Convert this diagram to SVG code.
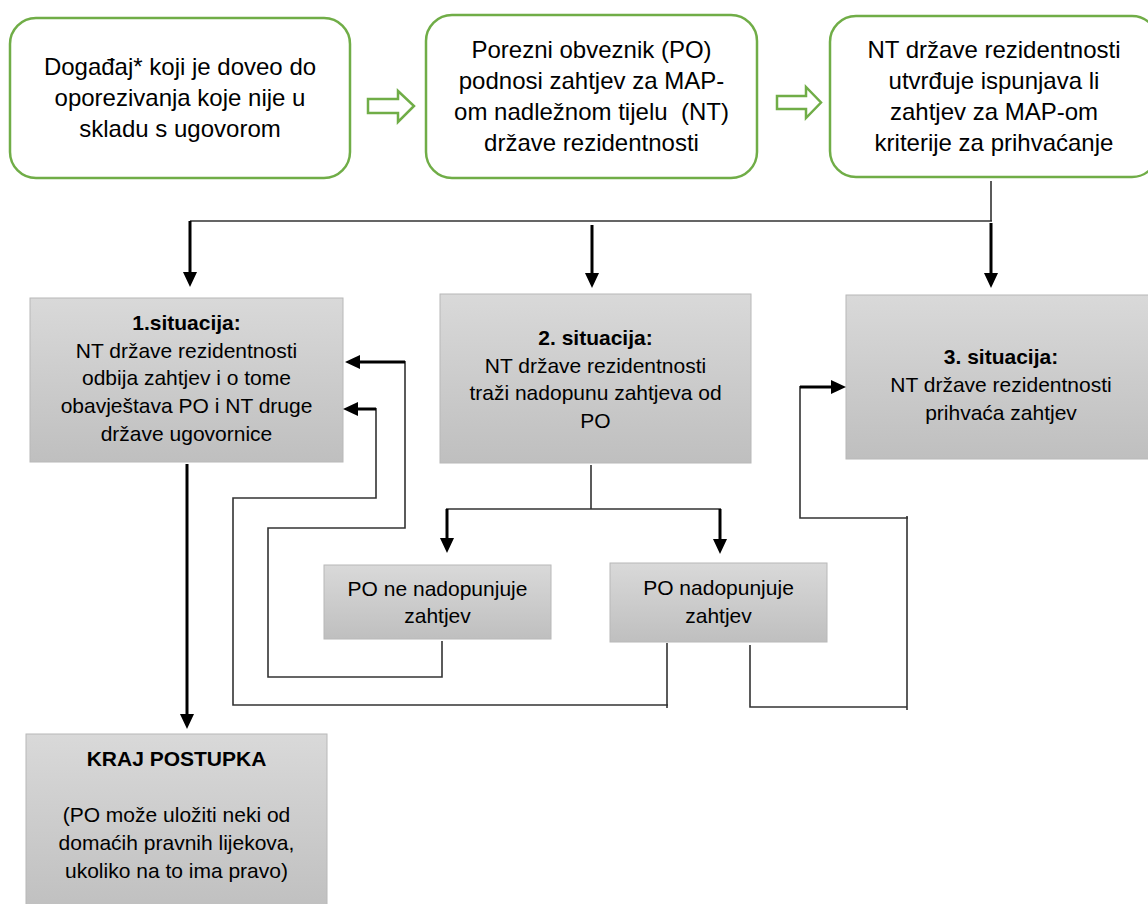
<svg xmlns="http://www.w3.org/2000/svg" width="1148" height="904" viewBox="0 0 1148 904">
  <defs>
    <linearGradient id="greyFill" x1="0" y1="0" x2="0" y2="1">
      <stop offset="0" stop-color="#d9d9d9"/>
      <stop offset="1" stop-color="#bfbfbf"/>
    </linearGradient>
    <marker id="head" viewBox="0 0 15 14" refX="0" refY="7" markerWidth="15" markerHeight="14" markerUnits="userSpaceOnUse" orient="auto">
      <path d="M0,0 L15,7 L0,14 Z" fill="#000"/>
    </marker>
    <style>
      .step { fill: #fff; stroke: #70ad47; stroke-width: 2.5; }
      .grey { fill: url(#greyFill); stroke: #b8b8b8; stroke-width: 1; }
      .hollow { fill: #fff; stroke: #70ad47; stroke-width: 2.5; stroke-linejoin: miter; }
      text { font-family: "Liberation Sans", Arial, sans-serif; fill: #000; text-anchor: middle; }
      .big { font-size: 24px; }
      .small { font-size: 21px; }
      .b { font-weight: bold; }
      .thin { fill: none; stroke: #333; stroke-width: 1.6; }
      .thick { fill: none; stroke: #000; stroke-width: 3; marker-end: url(#head); }
    </style>
  </defs>
  <rect width="1148" height="904" fill="#fff"/>

  <!-- top row: rounded green steps -->
  <g id="event">
    <rect class="step" x="10" y="18" width="340" height="160" rx="26"/>
    <text class="big" x="180" y="75">Događaj* koji je doveo do</text>
    <text class="big" x="180" y="106">oporezivanja koje nije u</text>
    <text class="big" x="180" y="137">skladu s ugovorom</text>
  </g>
  <g id="request">
    <rect class="step" x="426" y="15" width="331" height="163" rx="26"/>
    <text class="big" x="591.5" y="58">Porezni obveznik (PO)</text>
    <text class="big" x="591.5" y="89">podnosi zahtjev za MAP-</text>
    <text class="big" x="591.5" y="120">om nadležnom tijelu&#160; (NT)</text>
    <text class="big" x="591.5" y="151">države rezidentnosti</text>
  </g>
  <g id="check">
    <rect class="step" x="830" y="16" width="328" height="161" rx="26"/>
    <text class="big" x="994" y="58">NT države rezidentnosti</text>
    <text class="big" x="994" y="89">utvrđuje ispunjava li</text>
    <text class="big" x="994" y="120">zahtjev za MAP-om</text>
    <text class="big" x="994" y="151">kriterije za prihvaćanje</text>
  </g>

  <!-- hollow block arrows between the steps -->
  <g id="flow-arrows">
    <path class="hollow" d="M368,99 H398 V91 L414,106 L398,122 V113 H368 Z"/>
    <path class="hollow" d="M777,96 H806 V87 L821,102.5 L806,118 V109 H777 Z"/>
  </g>

  <!-- situations -->
  <g id="situation1">
    <rect class="grey" x="30" y="298" width="313" height="164"/>
    <text class="small b" x="186.5" y="330">1.situacija:</text>
    <text class="small" x="186.5" y="357.5">NT države rezidentnosti</text>
    <text class="small" x="186.5" y="385">odbija zahtjev i o tome</text>
    <text class="small" x="186.5" y="413">obavještava PO i NT druge</text>
    <text class="small" x="186.5" y="441">države ugovornice</text>
  </g>
  <g id="situation2">
    <rect class="grey" x="440" y="294" width="311" height="169"/>
    <text class="small b" x="595.5" y="345">2. situacija:</text>
    <text class="small" x="595.5" y="372.5">NT države rezidentnosti</text>
    <text class="small" x="595.5" y="400">traži nadopunu zahtjeva od</text>
    <text class="small" x="595.5" y="427.5">PO</text>
  </g>
  <g id="situation3">
    <rect class="grey" x="846" y="295" width="312" height="164"/>
    <text class="small b" x="1001" y="364">3. situacija:</text>
    <text class="small" x="1001" y="392">NT države rezidentnosti</text>
    <text class="small" x="1001" y="420">prihvaća zahtjev</text>
  </g>
  <g id="no-supplement">
    <rect class="grey" x="324" y="565" width="227" height="74"/>
    <text class="small" x="437.5" y="596">PO ne nadopunjuje</text>
    <text class="small" x="437.5" y="623">zahtjev</text>
  </g>
  <g id="supplement">
    <rect class="grey" x="610" y="563" width="217" height="79"/>
    <text class="small" x="718.5" y="595">PO nadopunjuje</text>
    <text class="small" x="718.5" y="623">zahtjev</text>
  </g>
  <g id="end">
    <rect class="grey" x="26" y="734" width="301" height="180"/>
    <text class="small b" x="176.5" y="766">KRAJ POSTUPKA</text>
    <text class="small" x="176.5" y="822">(PO može uložiti neki od</text>
    <text class="small" x="176.5" y="850">domaćih pravnih lijekova,</text>
    <text class="small" x="176.5" y="878">ukoliko na to ima pravo)</text>
  </g>

  <!-- connectors -->
  <g id="connectors">
    <!-- split from the check step into three situations -->
    <path class="thin" d="M991,181 V221 M190,221 H992"/>
    <path class="thick" d="M190,221 V272"/>
    <path class="thick" d="M592,225 V273"/>
    <path class="thick" d="M991,223 V273"/>

    <!-- situation 1 leads to the end -->
    <path class="thick" d="M187,464 V714"/>

    <!-- situation 2 splits into the two answers -->
    <path class="thin" d="M591,465 V509 M446,509 H721"/>
    <path class="thick" d="M447,509 V538"/>
    <path class="thick" d="M720,509 V539"/>

    <!-- no supplement returns to situation 1 -->
    <path class="thin" d="M442,641 V677 H268 V528 H405 V361"/>
    <path class="thick" d="M405,362 H360"/>

    <!-- supplement may also return to situation 1 -->
    <path class="thin" d="M667,643 V708 M668,705 H233 V498 H376 V408"/>
    <path class="thick" d="M376,409 H358"/>

    <!-- supplement leads to situation 3 -->
    <path class="thin" d="M750,645 V707 H907 M907,710 V516 M908,518 H800 V386"/>
    <path class="thick" d="M800,387 H831"/>
  </g>
</svg>
